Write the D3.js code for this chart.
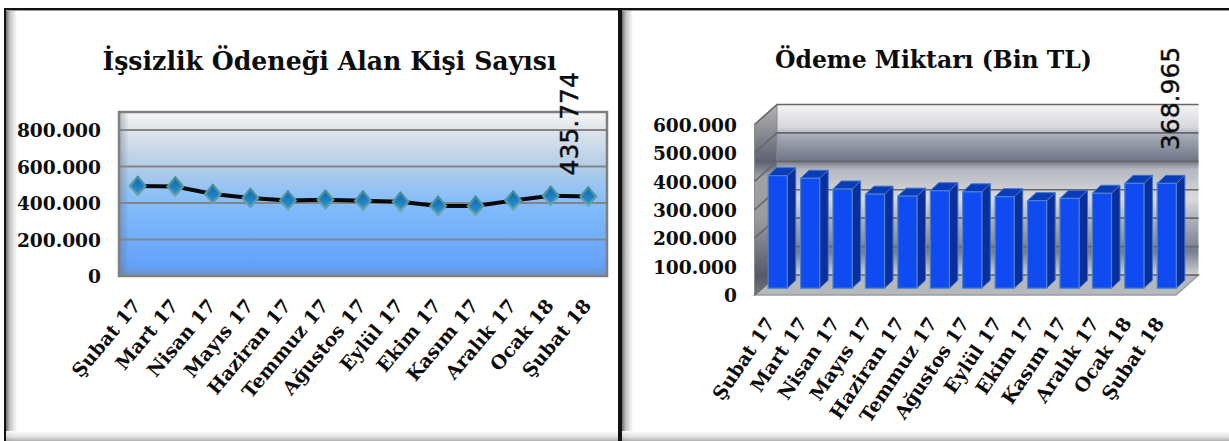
<!DOCTYPE html>
<html>
<head>
<meta charset="utf-8">
<script src="https://cdn.jsdelivr.net/npm/d3@7"></script>
<style>
  html, body { margin: 0; padding: 0; background: #fff; }
  svg { display: block; }
  text { fill: #0c0c0c; }
  .title { font-family: "DejaVu Serif"; font-weight: bold; }
  .tick-label { font-family: "DejaVu Serif"; font-weight: bold; font-size: 18.6px; }
  .cat-label { font-family: "DejaVu Serif"; font-weight: bold; font-size: 19px; }
  .data-label { font-family: "DejaVu Sans"; font-size: 25px; stroke: #0c0c0c; stroke-width: 0.4px; }
</style>
</head>
<body>
<div id="chart"></div>
<script>
var months = ["Şubat 17", "Mart 17", "Nisan 17", "Mayıs 17", "Haziran 17", "Temmuz 17", "Ağustos 17",
  "Eylül 17", "Ekim 17", "Kasım 17", "Aralık 17", "Ocak 18", "Şubat 18"];
var recipients = [493000, 490000, 449000, 427000, 414000, 418000, 413000, 407000, 384000, 384000, 414000, 440000, 435774];
var payments = [396000, 387000, 349000, 331000, 324000, 343000, 339000, 322000, 308000, 316000, 334000, 369000, 368965];
var recipientTicks = [0, 200000, 400000, 600000, 800000];
var paymentTicks = [0, 100000, 200000, 300000, 400000, 500000, 600000];

var width = 1229, height = 441;
var fmt = d3.formatLocale({decimal: ",", thousands: ".", grouping: [3], currency: ["", ""]}).format(",d");

var svg = d3.select("#chart").append("svg").attr("width", width).attr("height", height);
var defs = svg.append("defs");

function gradient(id, stops, horizontal) {
  var g = defs.append("linearGradient").attr("id", id)
    .attr("x1", 0).attr("y1", 0)
    .attr("x2", horizontal ? 1 : 0).attr("y2", horizontal ? 0 : 1);
  stops.forEach(function(s) {
    g.append("stop").attr("offset", s[0]).attr("stop-color", s[1]);
  });
}

gradient("edgeLeft", [[0, "#6e6e6e"], [0.35, "#c4c4c4"], [1, "#ffffff"]], true);
gradient("edgeBottom", [[0, "#ffffff"], [0.55, "#e2e2e2"], [1, "#a8a8a8"]], false);
gradient("plotBlue", [[0, "#f6f6f7"], [0.11, "#dfe4ea"], [0.33, "#b4cde6"], [0.55, "#84bdfb"], [0.93, "#64a2fa"], [1, "#6f93c8"]], false);
gradient("plotShade", [[0, "#66707c"], [1, "#66707c00"]], true);
gradient("wall", [[0, "#f4f4f5"], [0.13, "#d8d9dd"], [0.18, "#a7abb7"], [0.33, "#6f7587"], [0.38, "#b4b7c0"], [0.55, "#d9dade"], [0.7, "#a6a9b5"], [0.86, "#767c8d"], [1, "#cfd1d5"]], false);
gradient("sideWall", [[0, "#b4b4b4"], [0.3, "#5e6270"], [0.38, "#a0a2a8"], [0.6, "#9a9a9e"], [0.9, "#55586a"], [1, "#77787e"]], false);
gradient("marker", [[0, "#0f6aae"], [1, "#2b93d4"]], false);
gradient("markerEdge", [[0, "#3f8a98"], [1, "#6fa6ac"]], false);

// panel frames
function panel(x, w) {
  svg.append("rect").attr("x", x).attr("y", 9).attr("width", 11).attr("height", height - 9).attr("fill", "url(#edgeLeft)");
  svg.append("rect").attr("x", x).attr("y", 431).attr("width", w).attr("height", 10).attr("fill", "url(#edgeBottom)").attr("opacity", 0.9);
  svg.append("rect").attr("x", x).attr("y", 8).attr("width", w).attr("height", 2).attr("fill", "#111");
  svg.append("rect").attr("x", x).attr("y", 10).attr("width", w).attr("height", 1).attr("fill", "#9a9a9a");
}
panel(6, 612);
panel(622, 607);
svg.append("rect").attr("x", 4).attr("y", 8).attr("width", 2).attr("height", height - 8).attr("fill", "#111");
svg.append("rect").attr("x", 618).attr("y", 8).attr("width", 4).attr("height", height - 8).attr("fill", "#111");

function categoryLabels(g, x, y0, nudge, angle) {
  g.selectAll("text").data(months).join("text")
    .attr("class", "cat-label")
    .attr("text-anchor", "end")
    .attr("transform", function(d) {
      return "translate(" + (x(d) + x.bandwidth() / 2 + nudge) + "," + y0 + ") rotate(" + angle + ")";
    })
    .text(function(d) { return d; });
}

function drawLinePanel() {
  var x = d3.scaleBand().domain(months).range([119, 607]);
  var y = d3.scaleLinear().domain([0, 800000]).range([276, 130]);
  var plotTop = 112;
  var g = svg.append("g");

  g.append("text").attr("class", "title").attr("font-size", 25.2).attr("x", 329.5).attr("y", 70).attr("text-anchor", "middle")
    .text("İşsizlik Ödeneği Alan Kişi Sayısı");

  g.append("rect").attr("x", 119).attr("y", plotTop).attr("width", 488).attr("height", 276 - plotTop).attr("fill", "url(#plotBlue)");
  g.append("rect").attr("x", 119).attr("y", plotTop).attr("width", 10).attr("height", 276 - plotTop).attr("fill", "url(#plotShade)").attr("opacity", 0.45);

  g.selectAll(".grid").data(recipientTicks).join("line").attr("class", "grid")
    .attr("x1", 119).attr("x2", 607)
    .attr("y1", function(d) { return y(d); }).attr("y2", function(d) { return y(d); })
    .attr("stroke", "#858585").attr("stroke-width", 1.8);
  g.append("rect").attr("x", 119).attr("y", plotTop).attr("width", 488).attr("height", 276 - plotTop)
    .attr("fill", "none").attr("stroke", "#7f7f7f").attr("stroke-width", 2.5);

  var axis = d3.axisLeft(y).tickValues(recipientTicks).tickFormat(fmt).tickSize(0).tickPadding(0);
  var ax = g.append("g").attr("transform", "translate(101,0)").call(axis);
  ax.select(".domain").remove();
  ax.selectAll("text").attr("class", "tick-label").attr("dy", "0.36em");

  categoryLabels(g.append("g"), x, 306, 4, -50);

  var line = d3.line()
    .x(function(d, i) { return x(months[i]) + x.bandwidth() / 2; })
    .y(function(d) { return y(d); });
  g.append("path").datum(recipients).attr("d", line).attr("fill", "none")
    .attr("stroke", "#0a0a0a").attr("stroke-width", 4);

  var pts = g.selectAll(".pt").data(recipients).join("g").attr("class", "pt")
    .attr("transform", function(d, i) {
      return "translate(" + (x(months[i]) + x.bandwidth() / 2) + "," + y(d) + ")";
    });
  pts.append("path").attr("d", d3.symbol(d3.symbolDiamond, 135)).attr("transform", "scale(1.48,1)").attr("fill", "url(#markerEdge)");
  pts.append("path").attr("d", d3.symbol(d3.symbolDiamond, 62)).attr("transform", "scale(1.48,1)").attr("fill", "url(#marker)");

  var last = recipients.length - 1;
  g.append("text").attr("class", "data-label").attr("text-anchor", "start")
    .attr("transform", "translate(" + (x(months[last]) + x.bandwidth() / 2 - 10) + "," + (y(recipients[last]) - 21) + ") rotate(-90)")
    .text(fmt(recipients[last]));
}

function drawBarPanel() {
  var depthX = 22.5, depthY = -20;
  var x = d3.scaleBand().domain(months).range([754.5, 1176]).paddingInner(0.41).paddingOuter(0.205);
  var y = d3.scaleLinear().domain([0, 600000]).range([295, 124.5]);
  var g = svg.append("g");

  g.append("text").attr("class", "title").attr("font-size", 23.5).attr("x", 933.5).attr("y", 68).attr("text-anchor", "middle")
    .text("Ödeme Miktarı (Bin TL)");

  var left = 754.5, right = 1176, floor = y(0), top = y(600000);

  // back wall, side wall, floor
  g.append("rect").attr("x", left + depthX).attr("y", top + depthY).attr("width", right - left)
    .attr("height", floor - top).attr("fill", "url(#wall)");
  g.append("path").attr("fill", "url(#sideWall)").attr("stroke", "#8c8c8c")
    .attr("d", d3.line()([[left, top], [left + depthX, top + depthY], [left + depthX, floor + depthY], [left, floor]]) + "Z");
  g.append("path").attr("fill", "#b6b9bc").attr("stroke", "#9a9c9e").attr("stroke-width", 1.5)
    .attr("d", d3.line()([[left, floor], [left + depthX, floor + depthY], [right + depthX, floor + depthY], [right, floor]]) + "Z");

  g.selectAll(".grid").data(paymentTicks).join("path").attr("class", "grid")
    .attr("fill", "none").attr("stroke", "#66666a").attr("stroke-width", 1.6)
    .attr("d", function(d) {
      return d3.line()([[left, y(d)], [left + depthX, y(d) + depthY], [right + depthX, y(d) + depthY]]);
    });

  var axis = d3.axisLeft(y).tickValues(paymentTicks).tickFormat(fmt).tickSize(0).tickPadding(0);
  var ax = g.append("g").attr("transform", "translate(737,0)").call(axis);
  ax.select(".domain").remove();
  ax.selectAll("text").attr("class", "tick-label").attr("dy", "0.36em");

  categoryLabels(g.append("g"), x, 323, 5, -56);

  // bars sit in the middle of the floor depth
  var offX = 7, offY = -6.8, barDX = 8.5, barDY = -8;
  var bars = g.selectAll(".bar").data(payments).join("g").attr("class", "bar")
    .attr("transform", function(d, i) { return "translate(" + (x(months[i]) + offX) + "," + offY + ")"; });
  var bw = x.bandwidth();
  bars.append("path").attr("fill", "#0a2f9c").attr("stroke", "#3f74c4")
    .attr("d", function(d) {
      return d3.line()([[bw, y(d)], [bw + barDX, y(d) + barDY], [bw + barDX, y(0) + barDY], [bw, y(0)]]) + "Z";
    });
  bars.append("path").attr("fill", "#0a3cb8").attr("stroke", "#3f74c4")
    .attr("d", function(d) {
      return d3.line()([[0, y(d)], [barDX, y(d) + barDY], [bw + barDX, y(d) + barDY], [bw, y(d)]]) + "Z";
    });
  bars.append("rect").attr("x", 0).attr("width", bw)
    .attr("y", function(d) { return y(d); })
    .attr("height", function(d) { return y(0) - y(d); })
    .attr("fill", "#0f4bf0").attr("stroke", "#4a82d0").attr("stroke-width", 1.2);

  var last = payments.length - 1;
  g.append("text").attr("class", "data-label").attr("text-anchor", "start")
    .attr("transform", "translate(" + (x(months[last]) + bw / 2 + 19) + "," + (y(payments[last]) - 40) + ") rotate(-90)")
    .text(fmt(payments[last]));
}

drawLinePanel();
drawBarPanel();
</script>
</body>
</html>
